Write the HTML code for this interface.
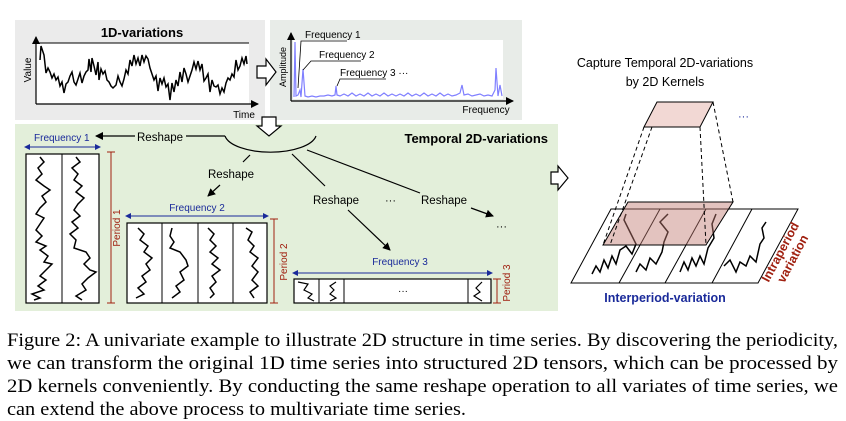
<!DOCTYPE html>
<html><head><meta charset="utf-8"><style>
html,body{margin:0;padding:0;background:#fff;}
svg{display:block;}
.s{font-family:"Liberation Sans",sans-serif;}
</style></head><body>
<svg width="846" height="421" viewBox="0 0 846 421" xmlns="http://www.w3.org/2000/svg" class="s">
<defs>
<marker id="ab" markerWidth="8" markerHeight="8" refX="7" refY="4" orient="auto" markerUnits="userSpaceOnUse"><path d="M0,0 L8,4 L0,8 z" fill="#000"/></marker>
<marker id="bl" markerWidth="6" markerHeight="6" refX="3" refY="3" orient="auto" markerUnits="userSpaceOnUse"><path d="M0,0 L6,3 L0,6 z" fill="#1a2a9a"/></marker>
<marker id="bs" markerWidth="6" markerHeight="6" refX="3" refY="3" orient="auto-start-reverse" markerUnits="userSpaceOnUse"><path d="M0,0 L6,3 L0,6 z" fill="#1a2a9a"/></marker>
</defs>
<rect x="15" y="20" width="250" height="100" fill="#ebebeb"/>
<rect x="270" y="20" width="252" height="100" fill="#e8ece8"/>
<rect x="15" y="124" width="543" height="187" fill="#e3efda"/>

<rect x="36" y="43" width="213" height="61" fill="#fff"/>
<line x1="36" y1="43" x2="249" y2="43" stroke="#000" stroke-width="1"/>
<line x1="36" y1="104" x2="36" y2="37" stroke="#000" stroke-width="1.2" marker-end="url(#ab)"/>
<line x1="36" y1="104" x2="258" y2="104" stroke="#000" stroke-width="1.2" marker-end="url(#ab)"/>
<text x="142" y="37" font-size="13" font-weight="bold" text-anchor="middle">1D-variations</text>
<text x="31" y="70" font-size="10" text-anchor="middle" transform="rotate(-90 31 70)">Value</text>
<text x="244" y="118" font-size="10" text-anchor="middle">Time</text>
<polyline fill="none" stroke="#000" stroke-width="1.5" points="40,60 41,46 44,55 46,73 48,68 50,72 52,78 54,74 56,80 58,77 60,86 62,82 64,93 66,84 68,82 70,76 72,72 74,82 76,85 78,79 80,73 82,83 84,76 86,72 88,70 89,59 91,72 92,58 94,66 96,75 98,62 99,80 101,69 103,74 105,71 107,80 109,82 111,86 113,88 116,85 118,76 120,82 122,86 124,79 126,70 128,74 130,60 132,66 134,55 136,64 138,58 140,66 142,55 144,62 146,56 148,59 150,68 152,74 154,80 156,76 158,91 160,78 162,84 164,78 166,87 168,84 170,100 172,83 174,92 176,80 178,86 180,72 182,82 184,68 186,74 188,82 190,76 192,70 194,62 196,69 198,61 200,70 202,64 204,81 206,78 208,74 210,92 212,80 214,86 216,87 218,85 220,94 222,88 224,92 226,83 228,78 230,80 232,74 234,77 236,60 238,70 240,66 242,58 244,64 246,56 247,64"/>

<path d="M257,66 L266,66 L266,59 L276,72 L266,85 L266,78 L257,78 z" fill="#fff" stroke="#000" stroke-width="1.2"/>

<rect x="293" y="40" width="210" height="59" fill="#fff"/>
<line x1="291" y1="101" x2="291" y2="33" stroke="#000" stroke-width="1.2" marker-end="url(#ab)"/>
<line x1="291" y1="101" x2="513" y2="101" stroke="#000" stroke-width="1.2" marker-end="url(#ab)"/>
<text x="286" y="67" font-size="9" text-anchor="middle" transform="rotate(-90 286 67)">Amplitude</text>
<text x="486" y="113" font-size="10" text-anchor="middle">Frequency</text>
<polyline fill="none" stroke="#8080ff" stroke-width="1.2" points="294,97 295,42 296,96 298,95 300,90 301,97 303,69 305,96 308,97 312,96 316,97 320,96 324,96 328,95 332,96 335,95 336,86 337,95 340,96 344,94 348,96 352,93 356,96 360,94 364,96 368,93 372,96 376,94 380,96 384,93 388,96 392,94 396,96 400,94 404,96 408,93 412,96 416,94 420,96 424,93 428,96 432,94 436,96 440,93 444,96 448,94 452,96 456,95 460,93 462,85 464,95 468,94 472,96 476,95 480,94 484,96 488,95 492,96 495,90 496,68 498,96 500,85 502,96"/>
<text x="305" y="38" font-size="10">Frequency 1</text>
<polyline points="347,41 301,41 298,88" fill="none" stroke="#000" stroke-width="0.8"/>
<text x="319" y="58" font-size="10">Frequency 2</text>
<polyline points="361,61 311,61 303,70" fill="none" stroke="#000" stroke-width="0.8"/>
<text x="340" y="76" font-size="10">Frequency 3  ···</text>
<polyline points="386,79 340,79 337,86" fill="none" stroke="#000" stroke-width="0.8"/>

<path d="M262,117 L276,117 L276,126 L281,126 L269,136 L257,126 L262,126 z" fill="#fff" stroke="#000" stroke-width="1.2"/>

<text x="548" y="143" font-size="13" font-weight="bold" text-anchor="end">Temporal 2D-variations</text>

<text x="34" y="141" font-size="10" fill="#1a2a9a">Frequency 1</text>
<line x1="135" y1="136" x2="96" y2="136" stroke="#000" stroke-width="1.2" marker-end="url(#ab)"/>
<text x="137" y="141" font-size="11.5">Reshape</text>
<line x1="186" y1="136" x2="225" y2="136" stroke="#000" stroke-width="1.2"/>
<path d="M225,136 A46,19 0 0 0 316,136" fill="none" stroke="#000" stroke-width="1.2"/>
<line x1="250" y1="155" x2="243" y2="162" stroke="#000" stroke-width="1.2"/>
<text x="208" y="178" font-size="11.5">Reshape</text>
<line x1="220" y1="185" x2="208" y2="196" stroke="#000" stroke-width="1.2" marker-end="url(#ab)"/>
<line x1="292" y1="154" x2="325" y2="186" stroke="#000" stroke-width="1.2"/>
<text x="313" y="204" font-size="11.5">Reshape</text>
<line x1="348" y1="210" x2="390" y2="250" stroke="#000" stroke-width="1.2" marker-end="url(#ab)"/>
<line x1="307" y1="150" x2="420" y2="193" stroke="#000" stroke-width="1.2"/>
<text x="385" y="204" font-size="11">···</text>
<text x="421" y="204" font-size="11.5">Reshape</text>
<line x1="471" y1="208" x2="493" y2="216" stroke="#000" stroke-width="1.2" marker-end="url(#ab)"/>
<text x="496" y="230" font-size="11">···</text>

<line x1="27" y1="147" x2="98" y2="147" stroke="#1a2a9a" stroke-width="1" marker-start="url(#bs)" marker-end="url(#bl)"/>
<rect x="26" y="154" width="73" height="149" fill="#fff" stroke="#000" stroke-width="1.2"/>
<line x1="62" y1="154" x2="62" y2="303" stroke="#000" stroke-width="1"/>
<polyline fill="none" stroke="#000" stroke-width="1.5" points="40,157 44,162 38,168 42,174 36,180 44,186 50,190 42,196 46,202 40,208 36,214 44,218 40,224 36,230 42,236 36,242 46,246 40,250 48,256 44,262 52,264 46,270 40,276 46,280 38,286 44,290 32,294 40,298 34,300"/>
<polyline fill="none" stroke="#000" stroke-width="1.5" points="76,157 80,162 72,168 78,174 74,180 82,186 76,192 84,198 78,204 74,210 80,216 72,222 78,228 70,234 76,240 74,248 86,252 90,258 84,264 90,270 96,272 88,278 82,284 86,290 76,296 82,300"/>
<line x1="111" y1="152" x2="111" y2="303" stroke="#a02010" stroke-width="1"/>
<line x1="107" y1="152" x2="115" y2="152" stroke="#a02010"/><line x1="107" y1="303" x2="115" y2="303" stroke="#a02010"/>
<text x="120" y="228" font-size="10" fill="#a02010" text-anchor="middle" transform="rotate(-90 120 228)">Period 1</text>

<text x="197" y="211" font-size="10" fill="#1a2a9a" text-anchor="middle">Frequency 2</text>
<line x1="128" y1="216" x2="266" y2="216" stroke="#1a2a9a" stroke-width="1" marker-start="url(#bs)" marker-end="url(#bl)"/>
<rect x="127" y="223" width="140" height="80" fill="#fff" stroke="#000" stroke-width="1.2"/>
<line x1="162" y1="223" x2="162" y2="303" stroke="#000"/><line x1="198" y1="223" x2="198" y2="303" stroke="#000"/><line x1="233" y1="223" x2="233" y2="303" stroke="#000"/>
<polyline fill="none" stroke="#000" stroke-width="1.5" points="138,228 144,234 140,240 148,246 144,252 152,258 146,264 150,270 142,276 146,282 138,288 144,294 136,298"/>
<polyline fill="none" stroke="#000" stroke-width="1.5" points="172,228 170,236 174,242 170,248 180,252 186,260 188,266 180,272 184,280 176,286 180,292 172,298"/>
<polyline fill="none" stroke="#000" stroke-width="1.5" points="208,228 214,234 210,240 216,246 210,252 218,258 212,264 220,270 212,276 216,282 210,288 214,294 210,298"/>
<polyline fill="none" stroke="#000" stroke-width="1.5" points="246,228 252,232 248,240 254,246 250,252 258,258 252,266 258,272 252,280 258,286 250,292 254,298"/>
<line x1="274" y1="219" x2="274" y2="303" stroke="#a02010"/>
<line x1="270" y1="219" x2="278" y2="219" stroke="#a02010"/><line x1="270" y1="303" x2="278" y2="303" stroke="#a02010"/>
<text x="287" y="262" font-size="10" fill="#a02010" text-anchor="middle" transform="rotate(-90 287 262)">Period 2</text>

<text x="400" y="265" font-size="10" fill="#1a2a9a" text-anchor="middle">Frequency 3</text>
<line x1="295" y1="273" x2="490" y2="273" stroke="#1a2a9a" stroke-width="1" marker-start="url(#bs)" marker-end="url(#bl)"/>
<rect x="294" y="279" width="197" height="24" fill="#fff" stroke="#000" stroke-width="1.2"/>
<line x1="319" y1="279" x2="319" y2="303" stroke="#000"/><line x1="344" y1="279" x2="344" y2="303" stroke="#000"/><line x1="468" y1="279" x2="468" y2="303" stroke="#000"/>
<polyline fill="none" stroke="#000" stroke-width="1.2" points="298,282 308,284 304,290 312,294 308,298 314,301"/>
<polyline fill="none" stroke="#000" stroke-width="1.2" points="336,282 330,286 334,290 330,294 336,298 330,301"/>
<polyline fill="none" stroke="#000" stroke-width="1.2" points="482,282 476,288 480,292 474,296 482,301"/>
<text x="403" y="294" font-size="10" text-anchor="middle">···</text>
<line x1="497" y1="279" x2="497" y2="303" stroke="#a02010"/>
<line x1="493" y1="279" x2="501" y2="279" stroke="#a02010"/><line x1="493" y1="303" x2="501" y2="303" stroke="#a02010"/>
<text x="510" y="283" font-size="10" fill="#a02010" text-anchor="middle" transform="rotate(-90 510 283)">Period 3</text>

<path d="M551,172 L558,172 L558,166 L568,178 L558,190 L558,184 L551,184 z" fill="#fff" stroke="#000" stroke-width="1.2"/>
<text x="665" y="67" font-size="12.5" text-anchor="middle">Capture Temporal 2D-variations</text>
<text x="665" y="86" font-size="12.5" text-anchor="middle">by 2D Kernels</text>
<polygon points="657,102 713,102 700,127 644,127" fill="#f2d8d4" stroke="#000" stroke-width="1"/>
<text x="738" y="120" font-size="11" fill="#1a2a9a">···</text>
<polygon points="611,209 798,209 758,283 571,283" fill="#fff" stroke="#000" stroke-width="1"/>
<line x1="660" y1="209" x2="619" y2="283" stroke="#000"/>
<line x1="706" y1="209" x2="665" y2="283" stroke="#000"/>
<line x1="752" y1="209" x2="712" y2="283" stroke="#000"/>
<polyline fill="none" stroke="#000" stroke-width="1.5" points="592,274 596,266 600,272 604,260 608,268 612,256 616,264 620,250 626,246 632,254 636,244 630,232 624,220 626,214"/>
<polyline fill="none" stroke="#000" stroke-width="1.5" points="636,272 640,264 646,270 650,258 656,264 662,252 664,242 668,232 660,222 668,214"/>
<polyline fill="none" stroke="#000" stroke-width="1.5" points="680,272 684,262 688,270 692,258 696,266 700,256 704,264 708,248 714,238 712,224 716,214"/>
<polyline fill="none" stroke="#000" stroke-width="1.5" points="724,266 730,260 736,272 740,262 746,266 750,256 756,262 760,244 764,238 762,228 766,222"/>
<polygon points="628,202 733,202 706,245 603,245" fill="#c07a70" fill-opacity="0.45" stroke="#000" stroke-width="1"/>
<g stroke="#000" stroke-width="1" stroke-dasharray="4,3" fill="none">
<line x1="644" y1="127" x2="603" y2="245"/>
<line x1="652" y1="127" x2="610" y2="245"/>
<line x1="700" y1="127" x2="706" y2="245"/>
<line x1="713" y1="102" x2="733" y2="202"/>
</g>
<text x="665" y="302" font-size="12.5" font-weight="bold" fill="#1a2a9a" text-anchor="middle">Interperiod-variation</text>
<text x="784" y="254" font-size="12.5" font-weight="bold" fill="#a02010" text-anchor="middle" transform="rotate(-62 784 254)"><tspan x="784" dy="0">Intraperiod</tspan><tspan x="784" dy="14">variation</tspan></text>

<g font-family="'Liberation Serif',serif" font-size="18.5">
<text x="7" y="346" textLength="831" lengthAdjust="spacingAndGlyphs">Figure 2: A univariate example to illustrate 2D structure in time series. By discovering the periodicity,</text>
<text x="7" y="369" textLength="831" lengthAdjust="spacingAndGlyphs">we can transform the original 1D time series into structured 2D tensors, which can be processed by</text>
<text x="7" y="392" textLength="831" lengthAdjust="spacingAndGlyphs">2D kernels conveniently. By conducting the same reshape operation to all variates of time series, we</text>
<text x="7" y="415" textLength="459" lengthAdjust="spacingAndGlyphs">can extend the above process to multivariate time series.</text>
</g>
</svg>
</body></html>
